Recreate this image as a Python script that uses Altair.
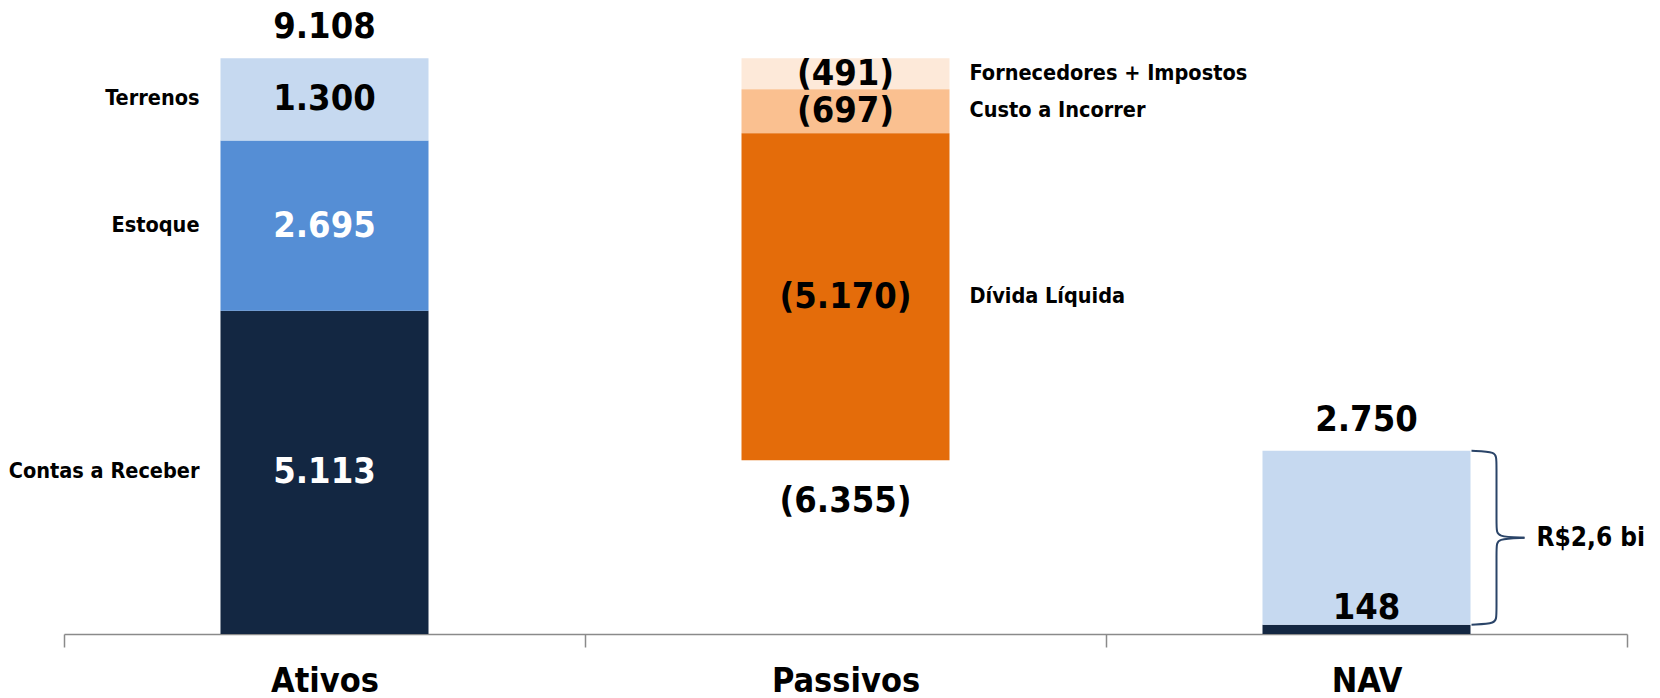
import altair as alt
import pandas as pd

# ---------------- data ----------------
categories = ["Ativos", "Passivos", "NAV"]
ativos_segments = ["Contas a Receber", "Estoque", "Terrenos"]
ativos_values = [5113, 2695, 1300]
passivos_segments = ["Fornecedores + Impostos", "Custo a Incorrer", "Dívida Líquida"]
passivos_values = [-491, -697, -5170]
passivos_total = -6355
nav_segments = ["NAV base", "NAV"]
nav_values = [148, 2750]
bracket_label = "R$2,6 bi"

# ---------------- styles ----------------
seg_colors = ["#132742", "#558ED5", "#C6D9F0",
              "#FDE9D9", "#FAC090", "#E46C0A",
              "#132742", "#C6D9F0"]
FONT = "DejaVu Sans Condensed, DejaVu Sans"
W, H = 1563, 634
BAND = W / 3
BAR = 208
YMAX = 10030
NUM_SIZE = 36
NAME_SIZE = 21.5


def fmt(v):
    s = f"{abs(v):,}".replace(",", ".")
    return f"({s})" if v < 0 else s


rows = []
acc = 0
for s, v in zip(ativos_segments, ativos_values):
    rows.append(dict(cat="Ativos", seg=s, start=acc, end=acc + v, label=fmt(v)))
    acc += v
ativos_total = acc
for s, v in zip(passivos_segments, passivos_values):
    rows.append(dict(cat="Passivos", seg=s, start=acc, end=acc + v, label=fmt(v)))
    acc += v
passivos_end = acc
nacc = 0
for s, v in zip(nav_segments, nav_values):
    rows.append(dict(cat="NAV", seg=s, start=nacc, end=nacc + v, label=fmt(v)))
    nacc += v
nav_top = nacc
df = pd.DataFrame(rows)
df["mid"] = (df["start"] + df["end"]) / 2

seg_domain = ativos_segments + passivos_segments + nav_segments

x_enc = alt.X(
    "cat:N",
    sort=categories,
    scale=alt.Scale(domain=categories, paddingInner=0, paddingOuter=0),
    axis=alt.Axis(
        title=None, labelAngle=0, tickBand="extent", tickSize=13,
        labelFont=FONT, labelFontSize=34, labelFontWeight="bold", labelColor="black",
        labelPadding=34, labelBaseline="middle",
        domainColor="#8a8a8a", domainWidth=1.5, tickColor="#8a8a8a", tickWidth=1.5,
        grid=False,
    ),
)
x_plain = alt.X("cat:N", sort=categories)
y_scale = alt.Scale(domain=[0, YMAX], nice=False, zero=True)

bars = alt.Chart(df).mark_bar(size=BAR).encode(
    x=x_enc,
    y=alt.Y("start:Q", scale=y_scale, axis=None),
    y2="end:Q",
    color=alt.Color("seg:N", scale=alt.Scale(domain=seg_domain, range=seg_colors), legend=None),
)

seg_lab_df = df[df["cat"] != "NAV"]
seg_labels = alt.Chart(seg_lab_df).mark_text(
    font=FONT, fontSize=NUM_SIZE, fontWeight="bold", baseline="middle"
).encode(
    x=x_plain,
    y=alt.Y("mid:Q"),
    text="label:N",
    color=alt.condition(
        alt.FieldOneOfPredicate(field="seg", oneOf=["Contas a Receber", "Estoque"]),
        alt.value("white"), alt.value("black")),
)

left_names = alt.Chart(df[df["cat"] == "Ativos"]).mark_text(
    font=FONT, fontSize=NAME_SIZE, fontWeight="bold", align="right", baseline="middle",
    dx=-(BAR / 2 + 21), color="black"
).encode(x=x_plain, y="mid:Q", text="seg:N")

right_names = alt.Chart(df[df["cat"] == "Passivos"]).mark_text(
    font=FONT, fontSize=NAME_SIZE, fontWeight="bold", align="left", baseline="middle",
    dx=(BAR / 2 + 20), color="black"
).encode(x=x_plain, y="mid:Q", text="seg:N")

above_df = pd.DataFrame({
    "cat": ["Ativos", "NAV"],
    "y": [ativos_total, nav_top],
    "label": [fmt(ativos_total), fmt(nav_values[1])],
})
above = alt.Chart(above_df).mark_text(
    font=FONT, fontSize=NUM_SIZE, fontWeight="bold", baseline="middle", dy=-31, color="black"
).encode(x=x_plain, y="y:Q", text="label:N")

below_df = pd.DataFrame({"cat": ["Passivos"], "y": [passivos_end], "label": [fmt(passivos_total)]})
below = alt.Chart(below_df).mark_text(
    font=FONT, fontSize=NUM_SIZE, fontWeight="bold", baseline="middle", dy=41, color="black"
).encode(x=x_plain, y="y:Q", text="label:N")

base_df = pd.DataFrame({"cat": ["NAV"], "y": [nav_values[0]], "label": [fmt(nav_values[0])]})
base_lab = alt.Chart(base_df).mark_text(
    font=FONT, fontSize=NUM_SIZE, fontWeight="bold", baseline="middle", dy=-17, color="black"
).encode(x=x_plain, y="y:Q", text="label:N")

brk_df = pd.DataFrame({"cat": ["NAV"], "y": [(nav_values[0] + nav_top) / 2], "label": [bracket_label]})
brk_lab = alt.Chart(brk_df).mark_text(
    font=FONT, fontSize=26, fontWeight="bold", align="left", baseline="middle",
    dx=BAR / 2 + 66, color="black"
).encode(x=x_plain, y="y:Q", text="label:N")

# curly brace spanning the light NAV segment (from base to top)
top, bot = nav_top, nav_values[0]
mid = (top + bot) / 2
curl = 9 * YMAX / H
offs_x = [1, 26, 26, 26, 26, 54]


def bx(o):
    return 0.5 + (BAR / 2 + o) / BAND


brace_rows = []
up_y = [top, top - curl * 0.1, top - curl, mid + curl, mid + curl * 0.1, mid]
lo_y = [bot, bot + curl * 0.1, bot + curl, mid - curl, mid - curl * 0.1, mid]
for i, (o, yy) in enumerate(zip(offs_x, up_y)):
    brace_rows.append(dict(cat="NAV", half="up", o=i, bx=bx(o), by=yy))
for i, (o, yy) in enumerate(zip(offs_x, lo_y)):
    brace_rows.append(dict(cat="NAV", half="lo", o=i, bx=bx(o), by=yy))
brace_df = pd.DataFrame(brace_rows)

brace = alt.Chart(brace_df).mark_line(
    interpolate="basis", color="#2A4468", strokeWidth=2
).encode(
    x=x_plain,
    xOffset=alt.XOffset("bx:Q", scale=alt.Scale(domain=[0, 1], nice=False, zero=False)),
    y=alt.Y("by:Q"),
    detail="half:N",
    order="o:Q",
)

chart = alt.layer(
    bars, seg_labels, left_names, right_names, above, below, base_lab, brk_lab, brace
).properties(
    width=W, height=H,
    padding={"left": 64, "top": 0, "right": 33, "bottom": 64},
    autosize=alt.AutoSizeParams(type="none"),
).configure_view(stroke=None)

chart.save("out.html", embed_options={"renderer": "svg", "actions": False})
